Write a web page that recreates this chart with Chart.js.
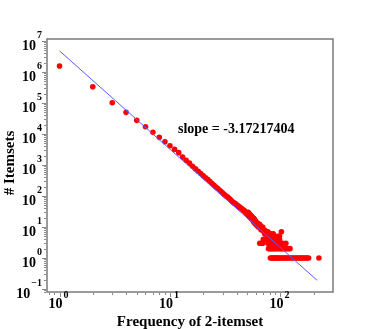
<!DOCTYPE html>
<html>
<head>
<meta charset="utf-8">
<script src="https://cdn.jsdelivr.net/npm/chart.js@4/dist/chart.umd.min.js"></script>
<style>
  html, body { margin: 0; padding: 0; background: #fff; }
</style>
</head>
<body>
<canvas id="powerChart" width="370" height="329"></canvas>
<script>
// main chain, frequency 1..50
var chainFreq = [1, 2, 3, 4, 5, 6, 7, 8, 9, 10, 11, 12, 13, 14, 15, 16, 17, 18, 19, 20,
  21, 22, 23, 24, 25, 26, 27, 28, 29, 30, 31, 32, 33, 34, 35, 36, 37, 38, 39, 40,
  41, 42, 43, 44, 45, 46, 47, 48, 49, 50];
var chainCount = [1560000, 336000, 102000, 50000, 27600, 17200, 11300, 7800, 5600, 4200,
  3200, 2500, 1800, 1430, 1150, 914, 753, 629, 529, 450,
  385, 340, 295, 252, 222, 196, 174, 155, 138, 124,
  112, 101, 94, 86, 78, 70, 64, 59, 57, 52,
  49, 46, 43, 40, 38, 35, 34, 31, 29, 26];

// scattered tail
var tailFreq = [51, 51, 52, 52, 53, 53, 54, 54, 55, 55, 56, 56, 57, 57, 58, 58, 59, 59, 60, 60,
  61, 62, 63, 63, 64, 65, 65, 66, 67, 67, 68, 69, 69, 70, 71, 72, 72, 73, 74, 75,
  76, 77, 78, 79, 80, 81, 82, 84, 86, 88, 90, 92, 95, 98, 102];
var tailCount = [24, 30, 22, 27, 21, 25, 19, 23, 18, 22, 17, 20, 15, 19, 14, 18, 13, 16, 12, 15,
  12, 11, 13, 10, 11, 10, 12, 9, 10, 8, 9, 8, 10, 8, 7, 8, 6, 7, 6, 7,
  6, 7, 6, 5, 6, 5, 6, 5, 6, 5, 5, 4, 5, 5, 7];

// rows of small counts
var row4Freq = [70, 72, 74, 78, 82, 85, 88, 90, 93, 96, 98];
var row3Freq = [65, 67, 69, 77, 79, 81, 83, 85, 87, 90, 93, 96, 99, 102, 105, 112];
var row2Freq = [78, 80, 82, 84, 86, 88, 91, 94, 97, 100, 103, 106, 109, 112, 115, 118, 122];
var row1Freq = [81, 83, 85, 87, 89, 91, 93, 95, 97, 100, 103, 106, 109, 112, 115, 118, 121, 124,
  128, 132, 136, 140, 144, 148, 152, 156, 160, 165, 170, 175, 180, 223];

// fitted line
var lineFreq = [1, 215];
var lineCount = [4800000, 0.19];

var xExponents = [0, 1, 2];
var yExponents = [-1, 0, 1, 2, 3, 4, 5, 6, 7];
var slopeText = 'slope = -3.17217404';

var points = [];
chainFreq.forEach(function (f, i) { points.push({ x: f, y: chainCount[i] }); });
tailFreq.forEach(function (f, i) { points.push({ x: f, y: tailCount[i] }); });
row4Freq.forEach(function (f) { points.push({ x: f, y: 4 }); });
row3Freq.forEach(function (f) { points.push({ x: f, y: 3 }); });
row2Freq.forEach(function (f) { points.push({ x: f, y: 2 }); });
row1Freq.forEach(function (f) { points.push({ x: f, y: 1 }); });

var linePts = lineFreq.map(function (f, i) { return { x: f, y: lineCount[i] }; });

var FONT = '"Liberation Serif", "Times New Roman", serif';

function drawPower(ctx, exp, x, baseY, supY, align) {
  var base = '10';
  var sup = exp < 0 ? '\u2212' + (-exp) : String(exp);
  ctx.font = 'bold 14px ' + FONT;
  var w1 = ctx.measureText(base).width;
  ctx.font = 'bold 10px ' + FONT;
  var w2 = ctx.measureText(sup).width;
  var left = align === 'right' ? x - w1 - w2 - 1 : x - (w1 + w2 + 1) / 2;
  ctx.textAlign = 'left';
  ctx.textBaseline = 'alphabetic';
  ctx.font = 'bold 14px ' + FONT;
  ctx.fillText(base, left, baseY);
  ctx.font = 'bold 10px ' + FONT;
  ctx.fillText(sup, left + w1 + 1, supY);
}

var decorPlugin = {
  id: 'decor',
  beforeDatasetsDraw: function (chart) {
    var ctx = chart.ctx, a = chart.chartArea;
    var xs = chart.scales.x, ys = chart.scales.y;
    ctx.save();
    ctx.strokeStyle = '#7a7a7a';
    ctx.lineWidth = 1.5;
    ctx.strokeRect(a.left, a.top, a.right - a.left, a.bottom - a.top);
    ctx.lineWidth = 1;
    ctx.strokeStyle = '#888';
    var d, m, v, p, len;
    for (d = -2; d <= 8; d++) {
      for (m = 1; m <= 9; m++) {
        v = m * Math.pow(10, d);
        len = m === 1 ? 4 : 2;
        if (v >= ys.min && v <= ys.max) {
          p = Math.round(ys.getPixelForValue(v)) + 0.5;
          ctx.beginPath();
          ctx.moveTo(a.left - len - 1, p);
          ctx.lineTo(a.left - 1, p);
          ctx.stroke();
        }
        if (v >= xs.min && v <= xs.max) {
          p = Math.round(xs.getPixelForValue(v)) + 0.5;
          ctx.beginPath();
          ctx.moveTo(p, a.bottom + 1);
          ctx.lineTo(p, a.bottom + len + 1);
          ctx.stroke();
        }
      }
    }
    ctx.restore();
  },
  afterDraw: function (chart) {
    var ctx = chart.ctx, a = chart.chartArea;
    var xs = chart.scales.x, ys = chart.scales.y;
    ctx.save();
    ctx.fillStyle = '#000';
    yExponents.forEach(function (e) {
      var py = ys.getPixelForValue(Math.pow(10, e));
      drawPower(ctx, e, a.left - 5, py + 9, py - 3, 'right');
    });
    xExponents.forEach(function (e) {
      var px = xs.getPixelForValue(Math.pow(10, e));
      drawPower(ctx, e, px - 1, a.bottom + 16, a.bottom + 6, 'center');
    });
    ctx.font = 'bold 15px ' + FONT;
    ctx.textAlign = 'center';
    ctx.textBaseline = 'alphabetic';
    ctx.fillText('Frequency of 2-itemset', (a.left + a.right) / 2, 326);
    ctx.save();
    ctx.translate(14, 163);
    ctx.rotate(-Math.PI / 2);
    ctx.fillText('# Itemsets', 0, 0);
    ctx.restore();
    ctx.font = 'bold 14px ' + FONT;
    ctx.textAlign = 'left';
    ctx.fillText(slopeText, 178, 133);
    ctx.restore();
  }
};

var ctx = document.getElementById('powerChart').getContext('2d');
var powerChart = new Chart(ctx, {
  type: 'scatter',
  data: {
    datasets: [
      {
        label: 'fit',
        type: 'line',
        data: linePts,
        borderColor: '#5a5aff',
        borderWidth: 1,
        pointRadius: 0,
        fill: false
      },
      {
        label: 'Itemsets',
        data: points,
        backgroundColor: '#ff0000',
        borderWidth: 0,
        pointRadius: 2.8
      }
    ]
  },
  options: {
    responsive: false,
    animation: false,
    layout: {
      padding: { left: 47, top: 39, right: 37, bottom: 37 }
    },
    plugins: {
      legend: { display: false },
      tooltip: { enabled: false }
    },
    scales: {
      x: {
        type: 'logarithmic',
        min: 0.77,
        max: 299,
        bounds: 'data',
        ticks: { display: false },
        grid: { display: false, drawTicks: false },
        border: { display: false }
      },
      y: {
        type: 'logarithmic',
        min: 0.08,
        max: 1.16e7,
        bounds: 'data',
        ticks: { display: false },
        grid: { display: false, drawTicks: false },
        border: { display: false }
      }
    }
  },
  plugins: [decorPlugin]
});
</script>
</body>
</html>
